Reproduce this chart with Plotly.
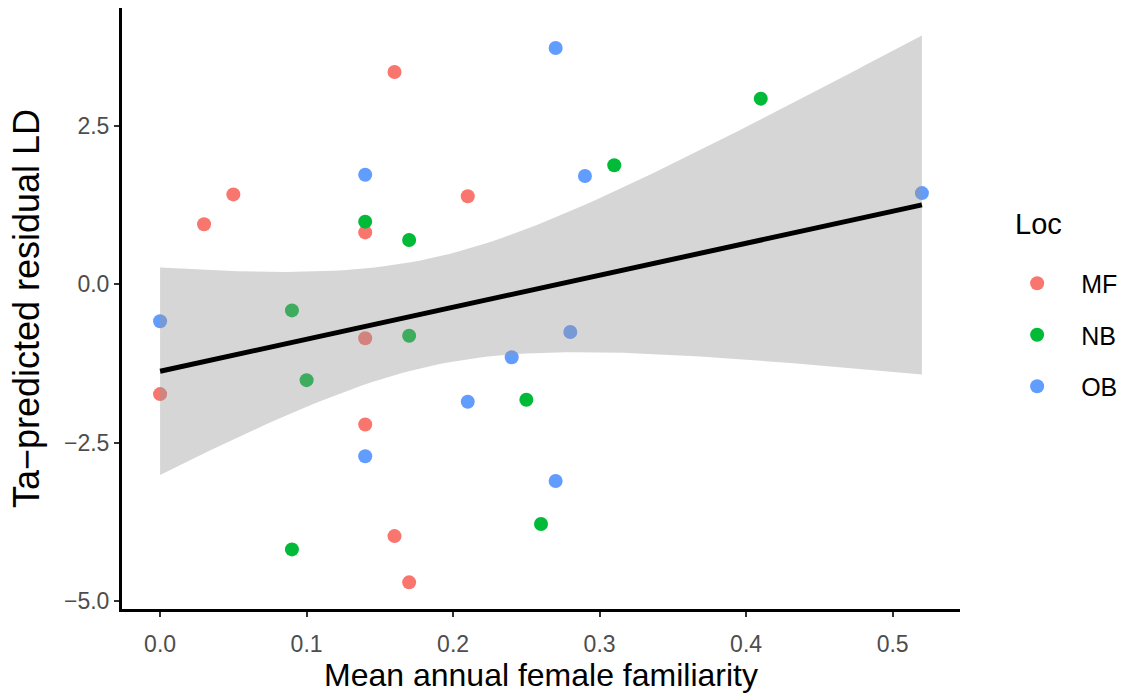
import numpy as np
import plotly.graph_objects as go

# Data
mf_x = [0.16, 0.05, 0.03, 0.21, 0.14, 0.14, 0.00, 0.14, 0.16, 0.17]
mf_y = [3.35, 1.42, 0.95, 1.39, 0.82, -0.85, -1.73, -2.21, -3.97, -4.70]
nb_x = [0.41, 0.31, 0.14, 0.17, 0.09, 0.17, 0.10, 0.25, 0.26, 0.09]
nb_y = [2.93, 1.88, 0.99, 0.70, -0.41, -0.81, -1.51, -1.82, -3.78, -4.18]
ob_x = [0.27, 0.14, 0.29, 0.52, 0.00, 0.28, 0.24, 0.21, 0.14, 0.27]
ob_y = [3.73, 1.73, 1.71, 1.44, -0.58, -0.75, -1.15, -1.85, -2.71, -3.10]

groups = ["MF", "NB", "OB"]
colors = ["#F8766D", "#00BA38", "#619CFF"]

x_ticks = [0.0, 0.1, 0.2, 0.3, 0.4, 0.5]
x_labels = ["0.0", "0.1", "0.2", "0.3", "0.4", "0.5"]
y_ticks = [-5.0, -2.5, 0.0, 2.5]
y_labels = ["\u22125.0", "\u22122.5", "0.0", "2.5"]

# Linear fit with 95% confidence band
X = np.array(mf_x + nb_x + ob_x)
Y = np.array(mf_y + nb_y + ob_y)
n = len(X)
b1, b0 = np.polyfit(X, Y, 1)
resid = Y - (b0 + b1 * X)
s = np.sqrt(np.sum(resid ** 2) / (n - 2))
xbar = X.mean()
sxx = np.sum((X - xbar) ** 2)
t_crit = 2.048407  # t(0.975, df=28)
grid = np.linspace(X.min(), X.max(), 80)
fit = b0 + b1 * grid
se = s * np.sqrt(1.0 / n + (grid - xbar) ** 2 / sxx)
upper = fit + t_crit * se
lower = fit - t_crit * se

FONT = "Liberation Sans, Arial"

fig = go.Figure()
for name, xs, ys, c in zip(groups, [mf_x, nb_x, ob_x], [mf_y, nb_y, ob_y], colors):
    fig.add_trace(go.Scatter(
        x=xs, y=ys, mode="markers", name=name, legendgroup=name,
        marker=dict(color=c, size=14, line=dict(width=0)),
    ))

fig.add_trace(go.Scatter(
    x=np.concatenate([grid, grid[::-1]]),
    y=np.concatenate([upper, lower[::-1]]),
    fill="toself", fillcolor="rgba(153,153,153,0.4)",
    line=dict(width=0), mode="lines", showlegend=False, hoverinfo="skip",
))
fig.add_trace(go.Scatter(
    x=grid, y=fit, mode="lines", line=dict(color="black", width=5),
    showlegend=False,
))

axis_common = dict(
    showgrid=False, zeroline=False, showline=True, linecolor="black", linewidth=3,
    ticks="outside", ticklen=5, tickwidth=2, tickcolor="#333333",
    tickfont=dict(family=FONT, size=23, color="#4D4D4D"), automargin=False,
)

fig.update_layout(
    width=1126, height=694,
    margin=dict(l=122, r=166, t=8, b=85),
    plot_bgcolor="white", paper_bgcolor="white",
    xaxis=dict(range=[-0.026, 0.546], tickvals=x_ticks, ticktext=x_labels,
               ticklabelstandoff=7,
               title=dict(text="Mean annual female familiarity", standoff=3,
                          font=dict(family=FONT, size=32, color="black")),
               **axis_common),
    yaxis=dict(range=[-5.12, 4.36], tickvals=y_ticks, ticktext=y_labels,
               title=dict(text="Ta\u2212predicted residual LD", standoff=14,
                          font=dict(family=FONT, size=36, color="black")),
               **axis_common),
    legend=dict(
        font=dict(family=FONT, size=25, color="black"),
        xref="container", yref="container", x=0.882, y=1 - 335 / 694,
        xanchor="left", yanchor="middle", tracegroupgap=16, itemwidth=78,
        bgcolor="rgba(0,0,0,0)",
    ),
    annotations=[dict(
        text="Loc", xref="paper", yref="paper", x=(1013 - 122) / 838, y=(609 - 224) / 601,
        xanchor="left", yanchor="middle", showarrow=False,
        font=dict(family=FONT, size=29, color="black"),
    )],
    showlegend=True,
)

fig.write_html("out.html")
